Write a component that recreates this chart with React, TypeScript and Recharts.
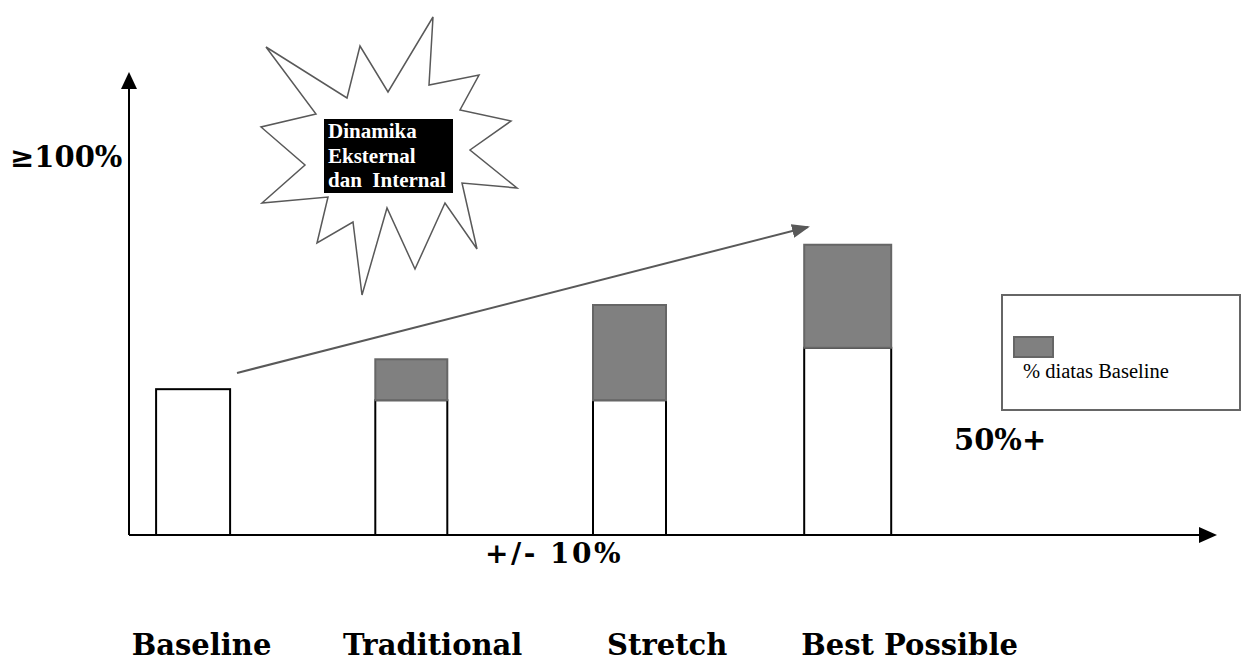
import React from 'react';
import { BarChart, Bar, XAxis, YAxis, Legend } from 'recharts';

const categories = ['Baseline', 'Traditional', 'Stretch', 'Best Possible'];
const baselineShare = [31.7, 29.3, 29.3, 40.7];
const aboveBaseline = [0, 8.9, 20.7, 22.4];
const legendLabel = '% diatas Baseline';

const data = categories.map((name, i) => ({
  name,
  base: baselineShare[i],
  above: aboveBaseline[i],
}));

const LABEL_DX = [-61, -68, -22, -46];
const BAR_WIDTHS = [74, 72, 73, 87];
const SERIF = "'DejaVu Serif', serif";
const TIMES = "'Liberation Serif', 'Times New Roman', serif";

const CategoryTick = (props: any) => {
  const { x, y, index, payload } = props;
  return (
    <text x={x + LABEL_DX[index]} y={y} dy={112} textAnchor="start" fontFamily={SERIF} fontWeight="bold" fontSize={29} fill="#000">
      {payload.value}
    </text>
  );
};

const SizedBar = (props: any) => {
  const { x, y, width, height, index, fill, stroke, strokeWidth } = props;
  if (!height || height <= 0) return null;
  const w = BAR_WIDTHS[index] ?? width;
  const cx = x + width / 2;
  return <rect x={cx - w / 2} y={y} width={w} height={height} fill={fill} stroke={stroke} strokeWidth={strokeWidth} />;
};

const LegendBox = () => (
  <div style={{ width: 236, height: 113, border: '2px solid #666', background: '#fff', position: 'relative', boxSizing: 'content-box' }}>
    <div style={{ position: 'absolute', left: 10, top: 40, width: 37, height: 18, background: '#808080', border: '2px solid #666' }} />
    <div style={{ position: 'absolute', left: 20, top: 64, fontFamily: TIMES, fontSize: 20.5, color: '#000', whiteSpace: 'nowrap' }}>{legendLabel}</div>
  </div>
);

const star: [number, number][] = [
  [433, 17], [429, 85], [479, 75], [460, 110], [511, 121], [470, 150], [517, 188], [462, 183],
  [477, 249], [445, 203], [415, 269], [387, 208], [362, 295], [353, 222], [317, 243], [328, 197],
  [262, 203], [305, 165], [261, 127], [316, 114], [266, 47], [347, 98], [360, 46], [388, 92],
];

export default function App() {
  return (
    <div style={{ position: 'absolute', left: 0, top: 0, width: 1241, height: 662, background: '#fff' }}>
      <BarChart
        width={1241}
        height={662}
        data={data}
        margin={{ top: 75, right: 33, bottom: 7, left: 128 }}
        barSize={75}
      >
        <XAxis
          dataKey="name"
          height={120}
          padding={{ left: -45.4, right: 251.6 }}
          axisLine={{ stroke: '#000', strokeWidth: 2 }}
          tickLine={false}
          tick={<CategoryTick />}
          interval={0}
        />
        <YAxis
          width={1}
          domain={[0, 100]}
          axisLine={{ stroke: '#000', strokeWidth: 2 }}
          tickLine={false}
          tick={false}
        />
        <Legend
          layout="horizontal"
          verticalAlign="middle"
          align="center"
          content={<LegendBox />}
          wrapperStyle={{ position: 'absolute', left: 1001, top: 294, width: 'auto', height: 'auto' }}
        />
        <Bar dataKey="base" stackId="a" fill="#fff" stroke="#000" strokeWidth={2} shape={<SizedBar />} isAnimationActive={false} name="Baseline" />
        <Bar dataKey="above" stackId="a" fill="#808080" stroke="#666" strokeWidth={2} shape={<SizedBar />} isAnimationActive={false} name={legendLabel} />
      </BarChart>
      <svg width={1241} height={662} style={{ position: 'absolute', left: 0, top: 0, pointerEvents: 'none' }}>
        <defs>
          <marker id="trend" markerWidth="9" markerHeight="7" refX="8" refY="3.5" orient="auto" markerUnits="strokeWidth">
            <path d="M0,0 L9,3.5 L0,7 Z" fill="#595959" />
          </marker>
        </defs>
        <polygon points="129,72 121,89 137,89" fill="#000" />
        <polygon points="1217,535 1199,527 1199,543" fill="#000" />
        <polygon points={star.map((p) => p.join(',')).join(' ')} fill="#fff" stroke="#595959" strokeWidth={1.5} />
        <rect x={324} y={119} width={129} height={74} fill="#000" />
        <text fontFamily={TIMES} fontWeight="bold" fontSize={21} fill="#fff" style={{ whiteSpace: 'pre' }}>
          <tspan x={328} y={138}>Dinamika</tspan>
          <tspan x={328} y={163}>Eksternal</tspan>
          <tspan x={328} y={187}>dan  Internal</tspan>
        </text>
        <line x1={237} y1={373} x2={808} y2={227} stroke="#595959" strokeWidth={2} markerEnd="url(#trend)" />
        <text x={10} y={167} fontFamily={SERIF} fontWeight="bold" fontSize={29} fill="#000">≥100%</text>
        <text x={485} y={563} fontFamily={SERIF} fontWeight="bold" fontSize={28} letterSpacing={2.5} fill="#000">+/- 10%</text>
        <text x={954} y={450} fontFamily={SERIF} fontWeight="bold" fontSize={29} fill="#000">50%+</text>
      </svg>
    </div>
  );
}
